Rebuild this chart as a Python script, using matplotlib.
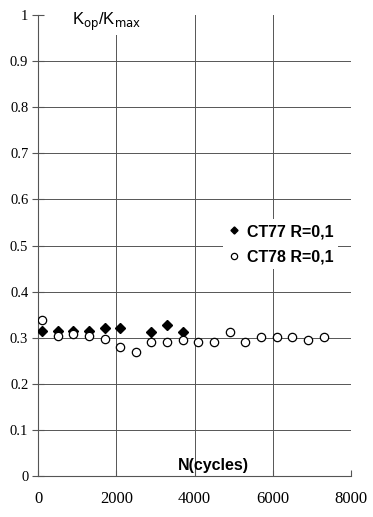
import matplotlib
matplotlib.use("Agg")
import matplotlib.pyplot as plt

ct77_n = [100, 500, 900, 1300, 1700, 2100, 2900, 3300, 3700]
ct77_k = [0.315, 0.315, 0.315, 0.315, 0.322, 0.322, 0.313, 0.328, 0.313]

ct78_n = [100, 500, 900, 1300, 1700, 2100, 2500, 2900, 3300, 3700, 4100, 4500,
          4900, 5300, 5700, 6100, 6500, 6900, 7300]
ct78_k = [0.339, 0.304, 0.309, 0.304, 0.298, 0.281, 0.270, 0.291, 0.291, 0.296,
          0.291, 0.291, 0.313, 0.290, 0.302, 0.302, 0.302, 0.296, 0.302]

xticks = [0, 2000, 4000, 6000, 8000]
yticks = [0, 0.1, 0.2, 0.3, 0.4, 0.5, 0.6, 0.7, 0.8, 0.9, 1]
ytick_labels = ["0", "0.1", "0.2", "0.3", "0.4", "0.5", "0.6", "0.7", "0.8", "0.9", "1"]

fig = plt.figure(figsize=(3.73, 5.17), dpi=100)
ax = fig.add_axes([0.102, 0.079, 0.839, 0.892])

ax.set_xlim(0, 8000)
ax.set_ylim(0, 1)

gc = "#555555"
for yv in yticks[1:-1]:
    ax.axhline(yv, color=gc, lw=0.7, zorder=1)
for xv in xticks[1:]:
    ax.axvline(xv, color=gc, lw=0.7, zorder=1)

ax.spines['top'].set_visible(False)
ax.spines['right'].set_visible(False)
for s in ['left', 'bottom']:
    ax.spines[s].set_color(gc)
    ax.spines[s].set_linewidth(0.8)

ax.set_xticks(xticks)
ax.set_xticklabels([str(v) for v in xticks], family="Liberation Serif", fontsize=12)
ax.set_yticks(yticks)
ax.set_yticklabels(ytick_labels, family="Liberation Serif", fontsize=10.5)
ax.tick_params(axis='x', direction='in', length=4, pad=11, color=gc)
ax.tick_params(axis='y', direction='inout', length=8, pad=3, color=gc)

ax.plot(ct77_n, ct77_k, linestyle='none', marker='D', markersize=4.8,
        color='black', zorder=3, label='CT77 R=0,1')
ax.plot(ct78_n, ct78_k, linestyle='none', marker='o', markersize=6,
        markerfacecolor='white', markeredgecolor='black', markeredgewidth=0.9,
        zorder=3, label='CT78 R=0,1')

ax.text(880, 0.986, r"K$_{\mathrm{op}}$/K$_{\mathrm{max}}$", family="Liberation Sans",
        fontsize=12, ha='left', va='center', zorder=4,
        bbox=dict(facecolor='white', edgecolor='none', pad=2))
ax.text(4480, 0.023, "N(cycles)", family="Liberation Sans", fontweight='bold',
        fontsize=11.5, ha='center', va='center', zorder=4)

leg = ax.legend(loc='center', bbox_to_anchor=(0.775, 0.503), frameon=True,
                fancybox=False, edgecolor='none', framealpha=1,
                prop={'family': 'Liberation Sans', 'weight': 'bold', 'size': 11.5},
                handlelength=0.8, handletextpad=0.4, labelspacing=0.65,
                borderpad=0.3, markerscale=0.75)
leg.set_zorder(5)

fig.savefig("out.png", dpi=100)
